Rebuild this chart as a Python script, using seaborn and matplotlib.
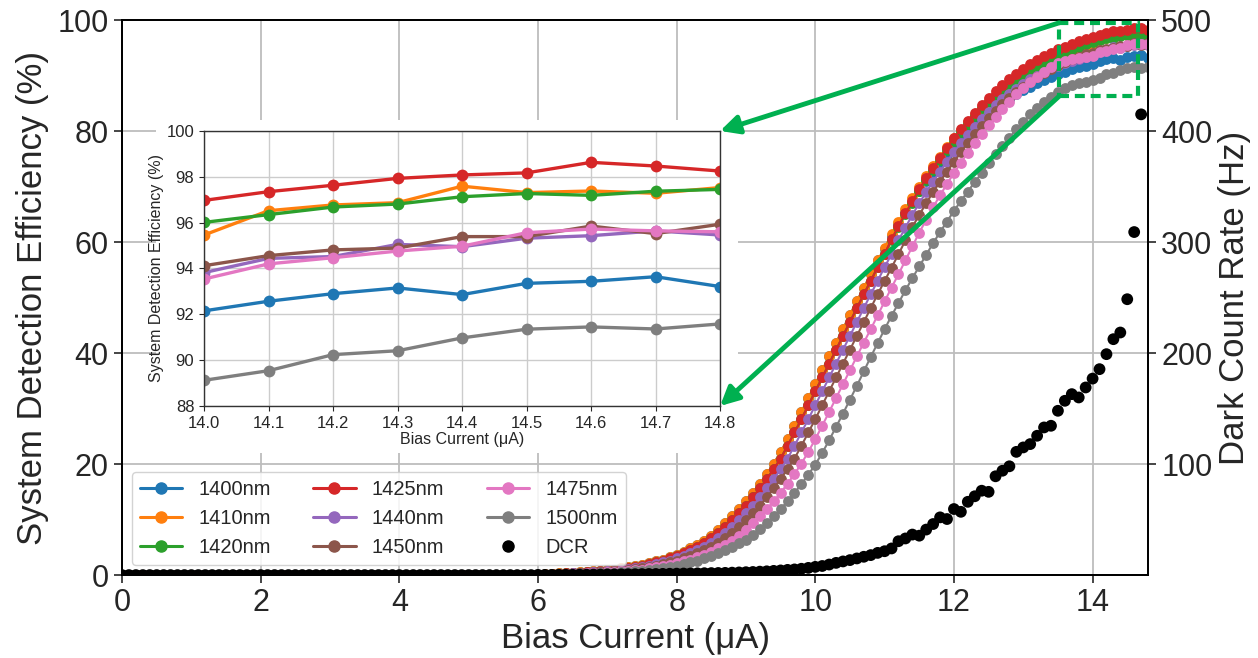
import numpy as np
import pandas as pd
import seaborn as sns
import matplotlib
matplotlib.use("Agg")
import matplotlib.pyplot as plt
from matplotlib.lines import Line2D
from matplotlib.patches import Rectangle, ConnectionPatch

# bias sweep, 0.1 uA steps
bias = np.round(np.arange(0, 14.85, 0.1), 1)

# every set sits on 0 below 6 uA
low = [0.0] * 60

# SDE (%) from 6.0 to 14.8 uA
sde_1400 = low + [0.1, 0.2, 0.2, 0.3, 0.3, 0.4, 0.5, 0.6, 0.7, 0.8,
                  0.9, 1.0, 1.2, 1.4, 1.6, 1.9, 2.2, 2.5, 2.8, 3.2,
                  3.7, 4.2, 4.8, 5.5, 6.2, 7.1, 8.2, 9.3, 10.6, 11.9,
                  13.3, 14.8, 16.5, 18.2, 20.1, 22.2, 24.5, 26.9, 29.4, 31.9,
                  34.4, 36.9, 39.4, 41.9, 44.4, 46.9, 49.4, 51.8, 54.2, 56.7,
                  58.7, 61.0, 63.2, 65.3, 67.3, 69.2, 71.0, 72.7, 74.3, 75.8,
                  77.2, 78.5, 79.8, 81.0, 82.1, 83.1, 84.1, 85.0, 85.8, 86.6,
                  87.3, 88.0, 88.6, 89.2, 89.7, 90.2, 90.7, 91.1, 91.5, 91.8,
                  92.15, 92.57, 92.90, 93.15, 92.86, 93.35, 93.44, 93.64, 93.21]
sde_1410 = low + [0.1, 0.2, 0.2, 0.3, 0.3, 0.4, 0.5, 0.6, 0.7, 0.8,
                  0.9, 1.0, 1.2, 1.4, 1.6, 1.9, 2.2, 2.5, 2.8, 3.2,
                  3.7, 4.2, 4.8, 5.5, 6.2, 7.1, 8.2, 9.3, 10.6, 11.9,
                  13.3, 14.8, 16.5, 18.2, 20.1, 22.2, 24.5, 26.9, 29.4, 31.9,
                  34.4, 36.9, 39.4, 41.9, 44.4, 46.9, 49.4, 51.8, 54.2, 56.7,
                  59.0, 61.4, 63.7, 65.9, 68.0, 70.0, 71.9, 73.7, 75.4, 77.1,
                  78.7, 80.2, 81.6, 82.9, 84.2, 85.4, 86.5, 87.5, 88.5, 89.4,
                  90.2, 91.0, 91.7, 92.4, 93.0, 93.5, 94.0, 94.5, 94.9, 95.2,
                  95.46, 96.52, 96.77, 96.87, 97.59, 97.31, 97.38, 97.28, 97.53]
sde_1420 = low + [0.1, 0.1, 0.2, 0.2, 0.3, 0.3, 0.4, 0.5, 0.6, 0.7,
                  0.8, 0.9, 1.1, 1.3, 1.5, 1.7, 2.0, 2.3, 2.6, 3.0,
                  3.4, 3.9, 4.5, 5.1, 5.8, 6.6, 7.6, 8.7, 9.9, 11.2,
                  12.5, 14.0, 15.6, 17.3, 19.1, 21.0, 23.3, 25.7, 28.1, 30.6,
                  33.1, 35.6, 38.1, 40.6, 43.1, 45.6, 48.1, 50.6, 53.0, 55.5,
                  57.8, 60.3, 62.7, 65.0, 67.1, 69.2, 71.2, 73.0, 74.8, 76.5,
                  78.2, 79.8, 81.3, 82.7, 84.1, 85.3, 86.5, 87.6, 88.5, 89.4,
                  90.3, 91.1, 91.8, 92.5, 93.1, 93.7, 94.2, 94.7, 95.2, 95.6,
                  96.01, 96.35, 96.68, 96.81, 97.13, 97.27, 97.19, 97.37, 97.45]
sde_1425 = low + [0.1, 0.1, 0.2, 0.2, 0.3, 0.3, 0.4, 0.5, 0.6, 0.7,
                  0.8, 0.9, 1.1, 1.3, 1.5, 1.7, 2.0, 2.3, 2.6, 3.0,
                  3.4, 3.9, 4.5, 5.1, 5.8, 6.6, 7.6, 8.7, 9.9, 11.2,
                  12.5, 14.0, 15.6, 17.3, 19.1, 21.0, 23.3, 25.7, 28.1, 30.6,
                  33.1, 35.6, 38.1, 40.6, 43.1, 45.6, 48.1, 50.6, 53.0, 55.5,
                  57.9, 60.5, 62.9, 65.2, 67.4, 69.5, 71.5, 73.4, 75.2, 77.0,
                  78.7, 80.3, 81.8, 83.3, 84.7, 86.0, 87.2, 88.3, 89.3, 90.3,
                  91.2, 92.0, 92.8, 93.5, 94.1, 94.7, 95.2, 95.7, 96.2, 96.6,
                  96.97, 97.35, 97.63, 97.93, 98.08, 98.17, 98.63, 98.47, 98.25]
sde_1440 = low + [0.1, 0.1, 0.1, 0.2, 0.2, 0.3, 0.3, 0.4, 0.5, 0.6,
                  0.7, 0.8, 0.9, 1.1, 1.3, 1.5, 1.7, 2.0, 2.3, 2.6,
                  3.0, 3.4, 3.9, 4.5, 5.1, 5.8, 6.6, 7.6, 8.7, 9.9,
                  11.2, 12.5, 14.0, 15.6, 17.3, 19.1, 21.0, 23.3, 25.7, 28.1,
                  30.6, 33.1, 35.6, 38.1, 40.6, 43.1, 45.6, 48.1, 50.6, 53.0,
                  55.5, 57.8, 60.3, 62.6, 64.9, 67.0, 69.0, 70.9, 72.7, 74.5,
                  76.2, 77.8, 79.3, 80.7, 82.1, 83.4, 84.6, 85.7, 86.7, 87.6,
                  88.5, 89.3, 90.0, 90.7, 91.3, 91.7, 92.2, 92.6, 93.0, 93.4,
                  93.82, 94.44, 94.52, 95.05, 94.95, 95.32, 95.43, 95.64, 95.46]
sde_1450 = low + [0.1, 0.1, 0.1, 0.1, 0.2, 0.2, 0.3, 0.3, 0.4, 0.5,
                  0.6, 0.7, 0.8, 0.9, 1.1, 1.3, 1.5, 1.7, 2.0, 2.3,
                  2.6, 3.0, 3.4, 3.9, 4.5, 5.1, 5.8, 6.6, 7.6, 8.7,
                  9.9, 11.2, 12.5, 14.0, 15.6, 17.3, 19.1, 21.0, 23.3, 25.7,
                  28.1, 30.6, 33.1, 35.6, 38.1, 40.6, 43.1, 45.6, 48.1, 50.6,
                  53.0, 55.4, 57.8, 60.3, 62.7, 64.9, 67.0, 69.0, 70.9, 72.7,
                  74.4, 76.2, 77.9, 79.4, 80.9, 82.3, 83.6, 84.9, 86.0, 87.1,
                  88.0, 88.9, 89.8, 90.5, 91.2, 91.9, 92.5, 93.0, 93.4, 93.8,
                  94.12, 94.56, 94.81, 94.89, 95.39, 95.39, 95.85, 95.52, 95.93]
sde_1475 = low + [0.0, 0.1, 0.1, 0.1, 0.1, 0.2, 0.2, 0.3, 0.3, 0.4,
                  0.5, 0.6, 0.7, 0.8, 0.9, 1.0, 1.2, 1.4, 1.6, 1.9,
                  2.2, 2.5, 2.8, 3.2, 3.7, 4.2, 4.8, 5.5, 6.2, 7.1,
                  8.2, 9.3, 10.6, 11.9, 13.3, 14.8, 16.5, 18.2, 20.1, 22.2,
                  24.5, 26.9, 29.4, 31.9, 34.4, 36.9, 39.4, 41.9, 44.3, 46.8,
                  49.3, 51.8, 54.2, 56.7, 59.2, 61.7, 64.0, 66.3, 68.4, 70.5,
                  72.4, 74.3, 76.1, 77.8, 79.5, 81.0, 82.5, 84.0, 85.3, 86.6,
                  87.7, 88.8, 89.8, 90.7, 91.5, 92.2, 92.7, 93.0, 93.2, 93.4,
                  93.54, 94.20, 94.47, 94.76, 94.97, 95.56, 95.72, 95.64, 95.60]
sde_1500 = low + [0.0, 0.0, 0.1, 0.1, 0.1, 0.1, 0.2, 0.2, 0.2, 0.3,
                  0.3, 0.4, 0.5, 0.6, 0.7, 0.8, 0.9, 1.1, 1.3, 1.5,
                  1.7, 2.0, 2.3, 2.6, 3.0, 3.4, 3.9, 4.5, 5.1, 5.7,
                  6.4, 7.3, 8.3, 9.4, 10.6, 11.9, 13.3, 14.8, 16.4, 18.1,
                  19.9, 22.0, 24.3, 26.7, 29.1, 31.6, 34.1, 36.7, 39.3, 41.8,
                  44.3, 46.7, 49.0, 51.3, 53.5, 55.6, 57.7, 59.8, 61.8, 63.7,
                  65.6, 67.4, 69.1, 70.8, 72.4, 74.2, 75.8, 77.3, 78.8, 80.3,
                  81.7, 83.0, 84.2, 85.3, 86.2, 87.0, 87.7, 88.3, 88.7, 88.9,
                  89.12, 89.54, 90.24, 90.41, 90.97, 91.35, 91.45, 91.36, 91.58]

# dark count rate (Hz), 0 to 14.7 uA
dcr = low + [0.2, 0.2, 0.2, 0.3, 0.3, 0.3, 0.4, 0.4, 0.5, 0.5,
             0.6, 0.6, 0.7, 0.8, 0.8, 0.9, 1.0, 1.0, 1.1, 1.2,
             1.3, 1.4, 1.5, 1.6, 1.7, 1.8, 1.9, 2.0, 2.2, 2.4,
             2.6, 2.8, 3.1, 3.4, 3.8, 4.2, 4.7, 5.1, 5.7, 6.5,
             7.4, 8.2, 9.5, 11.0, 12.3, 13.5, 15.0, 16.5, 18.0, 20.0,
             21.5, 24.0, 30.5, 33.0, 36.5, 35.5, 41.0, 46.0, 52.0, 50.5,
             59.5, 57.0, 66.0, 71.0, 76.0, 75.0, 89.0, 94.0, 98.0, 111.0,
             115.0, 118.0, 125.5, 133.0, 134.5, 148.0, 157.0, 163.0, 160.0, 169.0,
             177.0, 185.5, 199.0, 212.5, 218.5, 248.5, 309.0, 415.0]

labels = ["1400nm", "1410nm", "1420nm", "1425nm", "1440nm", "1450nm", "1475nm", "1500nm"]
series = [sde_1400, sde_1410, sde_1420, sde_1425, sde_1440, sde_1450, sde_1475, sde_1500]
colors = sns.color_palette("tab10", 8)

df = pd.concat([pd.DataFrame({"Bias": bias, "SDE": s, "Wavelength": lab})
                for s, lab in zip(series, labels)], ignore_index=True)
inset_df = df[df["Bias"] >= 14.0]

sns.set_style("ticks")
plt.rcParams["font.family"] = ["Liberation Sans", "DejaVu Sans"]

fig = plt.figure(figsize=(12.58, 6.58), dpi=100)
ax = fig.add_axes([0.097, 0.126, 0.8156, 0.8436])

sns.lineplot(data=df, x="Bias", y="SDE", hue="Wavelength", palette=colors,
             marker="o", markersize=7.8, markeredgewidth=0, linewidth=1.5,
             errorbar=None, legend=False, ax=ax)
ax.set_xlim(0, 14.8)
ax.set_ylim(0, 100)
ax.set_xticks(range(0, 15, 2))
ax.set_yticks(range(0, 101, 20))
ax.grid(True, color="#bdbdbd", linewidth=1.3)
ax.set_xlabel("Bias Current (μA)", fontsize=25, labelpad=3)
ax.set_ylabel("System Detection Efficiency (%)", fontsize=25, labelpad=6)
ax.tick_params(labelsize=22, direction="out", length=6, width=1.2)
for sp in ax.spines.values():
    sp.set_linewidth(1.3)
    sp.set_color("black")

ax2 = ax.twinx()
sns.scatterplot(x=bias[:len(dcr)], y=dcr, color="black", s=72,
                edgecolor="none", ax=ax2, zorder=5)
ax2.set_ylim(0, 500)
ax2.set_yticks([100, 200, 300, 400, 500])
ax2.set_ylabel("Dark Count Rate (Hz)", fontsize=25, labelpad=4)
ax2.tick_params(labelsize=22, direction="out", length=6, width=1.2)
ax2.grid(False)
for sp in ax2.spines.values():
    sp.set_linewidth(1.3)
    sp.set_color("black")

handles = [Line2D([], [], color=c, marker="o", markersize=8, linewidth=2.2)
           for c in colors]
handles.append(Line2D([], [], color="black", marker="o", markersize=8, linestyle="none"))
ax2.legend(handles, labels + ["DCR"], loc="lower left", ncol=3, fontsize=14.5,
           handlelength=2.1, columnspacing=2.1, framealpha=0.85)

# white backing for the zoomed inset
fig.add_artist(Rectangle((0.124, 0.312), 0.463, 0.506, transform=fig.transFigure,
                         facecolor="white", edgecolor="none", zorder=1))

inset = fig.add_axes([0.1622, 0.383, 0.4102, 0.418])
inset.set_zorder(5)
sns.lineplot(data=inset_df, x="Bias", y="SDE", hue="Wavelength", palette=colors,
             marker="o", markersize=8.5, markeredgewidth=0, linewidth=2.4,
             errorbar=None, legend=False, ax=inset)
inset.set_xlim(14.0, 14.8)
inset.set_ylim(88, 100)
inset.set_xticks(np.round(np.arange(14.0, 14.85, 0.1), 1))
inset.set_yticks(range(88, 101, 2))
inset.grid(True, color="#cccccc", linewidth=1.0)
inset.tick_params(labelsize=12, direction="out", length=3.5)
inset.set_xlabel("Bias Current (μA)", fontsize=11.5, labelpad=1)
inset.set_ylabel("System Detection Efficiency (%)", fontsize=11.5, labelpad=2)
for sp in inset.spines.values():
    sp.set_linewidth(1.0)
    sp.set_color("#333333")

green = "#00b050"
fig.add_artist(Rectangle((13.52, 86.3), 1.13, 13.2, transform=ax.transData,
                         fill=False, edgecolor=green, linewidth=3,
                         linestyle=(0, (2.4, 1.4)), zorder=10))
for corner in [(1.0, 1.0), (1.0, 0.0)]:
    start = (13.52, 99.5) if corner[1] == 1.0 else (13.52, 86.3)
    con = ConnectionPatch(xyA=start, coordsA=ax.transData,
                          xyB=corner, coordsB=inset.transAxes,
                          arrowstyle="-|>", color=green, linewidth=3.5,
                          mutation_scale=28, shrinkA=0, shrinkB=0)
    con.set_zorder(10)
    fig.add_artist(con)

fig.savefig("out.png", dpi=100)
